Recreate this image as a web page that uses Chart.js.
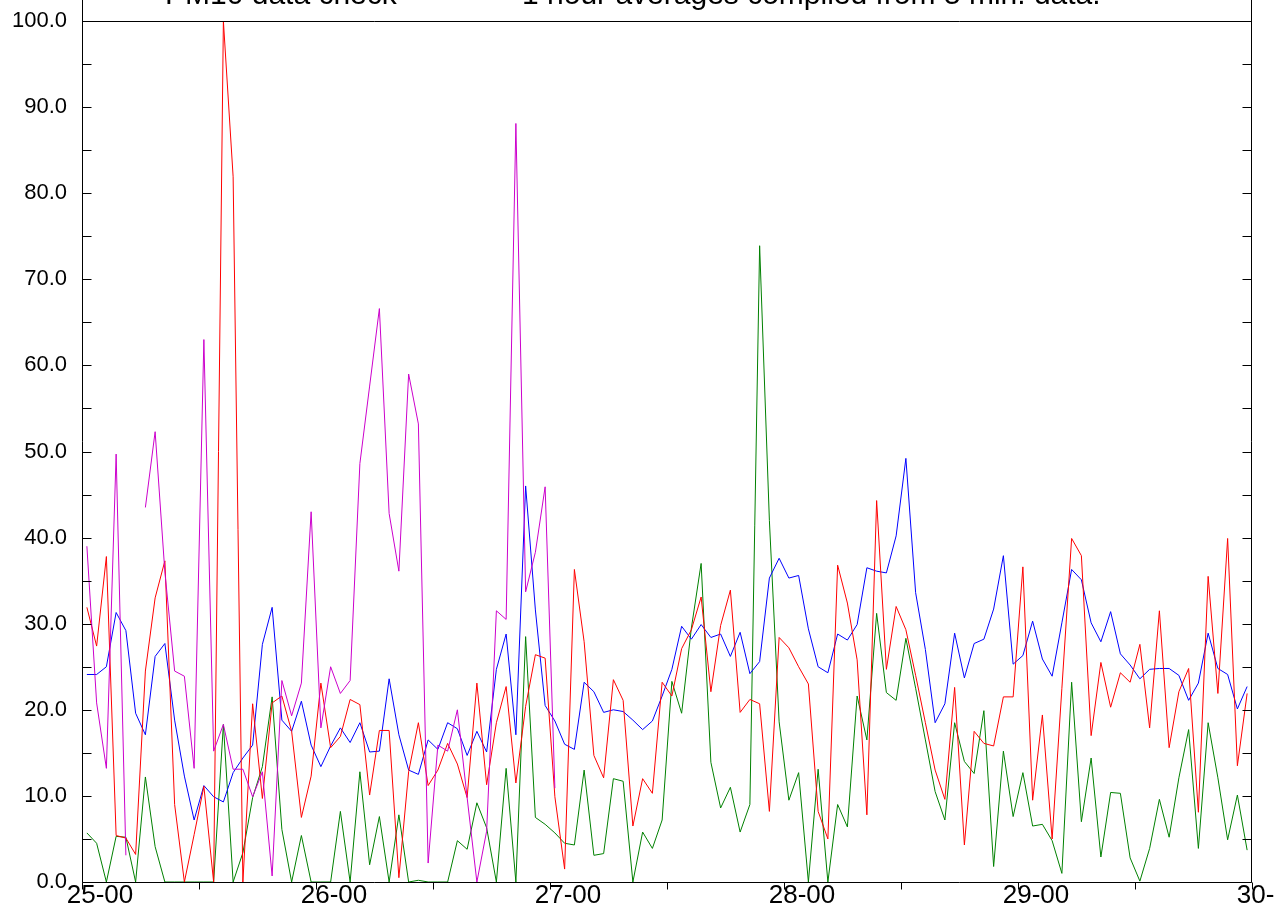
<!DOCTYPE html>
<html>
<head>
<meta charset="utf-8">
<script src="https://cdn.jsdelivr.net/npm/chart.js@4.4.1/dist/chart.umd.min.js"></script>
<style>
  html, body { margin: 0; padding: 0; background: #ffffff; }
  #wrap { position: relative; width: 1274px; height: 909px; }
  canvas { display: block; }
</style>
</head>
<body>
<div id="wrap"><canvas id="c" width="1274" height="909"></canvas></div>
<script>
// ---- chart text ----
const titleLeft = 'PM10 data check';
const titleRight = '1 hour averages compiled from 5 min. data.';
const dayLabels = ['25-00', '26-00', '27-00', '28-00', '29-00', '30-00'];

// ---- hourly averages (120 hours, 25-00 .. 30-00), one value per hour ----
const seriesMagenta = [
  39.0, 20.8, 13.2, 49.7, 3.1, null, 43.5, 52.3, 36.0, 24.5, 23.9, 13.2,
  63.0, 15.2, 18.3, 13.1, 13.1, 9.9, 12.8, 0.7, 23.4, 19.3, 23.1, 43.0,
  17.9, 25.0, 21.9, 23.4, 48.6, 57.6, 66.6, 42.8, 36.1, 59.0, 53.2, 2.2,
  15.9, 15.2, 20.0, 9.8, 0.0, 5.9, 31.5, 30.5, 88.1, 33.7, 38.3, 45.9,
  10.9, null, null, null, null, null, null, null, null, null, null, null,
  null, null, null, null, null, null, null, null, null, null, null, null,
  null, null, null, null, null, null, null, null, null, null, null, null,
  null, null, null, null, null, null, null, null, null, null, null, null,
  null, null, null, null, null, null, null, null, null, null, null, null,
  null, null, null, null, null, null, null, null, null, null, null, null
];
const seriesRed = [
  31.9, 27.4, 37.8, 5.4, 5.1, 3.2, 24.5, 33.0, 37.3, 9.0, 0.0, 5.5,
  11.1, 0.0, 100.0, 81.9, 0.0, 20.7, 9.7, 20.8, 21.6, 17.5, 7.5, 12.3,
  23.1, 15.6, 16.9, 21.2, 20.6, 10.1, 17.6, 17.6, 0.5, 12.8, 18.5, 11.2,
  13.0, 16.1, 13.7, 9.8, 23.1, 11.3, 18.5, 22.7, 11.5, 20.4, 26.4, 26.0,
  9.9, 1.5, 36.3, 27.9, 14.7, 12.1, 23.5, 21.1, 6.5, 12.0, 10.3, 23.2,
  21.6, 27.1, 29.3, 33.1, 22.1, 29.8, 33.9, 19.7, 21.2, 20.7, 8.2, 28.4,
  27.2, 25.0, 23.0, 8.2, 5.0, 36.8, 32.4, 25.8, 7.8, 44.3, 24.7, 32.0,
  29.3, 24.0, 18.5, 13.0, 9.6, 22.6, 4.3, 17.5, 16.1, 15.8, 21.5, 21.5,
  36.6, 9.5, 19.4, 5.0, 22.5, 39.9, 37.9, 17.0, 25.5, 20.3, 24.3, 23.2,
  27.6, 17.9, 31.5, 15.6, 22.1, 24.8, 8.1, 35.5, 21.9, 39.9, 13.5, 21.9
];
const seriesBlue = [
  24.1, 24.1, 25.0, 31.3, 29.2, 19.6, 17.1, 26.2, 27.7, 18.8, 12.3, 7.2,
  11.2, 9.9, 9.3, 12.7, 14.4, 15.9, 27.6, 31.9, 18.8, 17.5, 21.0, 15.9,
  13.4, 15.8, 17.9, 16.2, 18.5, 15.1, 15.2, 23.6, 17.1, 13.0, 12.5, 16.5,
  15.4, 18.5, 17.8, 14.7, 17.5, 15.1, 24.7, 28.8, 17.1, 46.0, 31.6, 20.5,
  18.7, 16.0, 15.4, 23.2, 22.1, 19.7, 20.0, 19.8, 18.8, 17.7, 18.7, 21.6,
  24.7, 29.7, 28.2, 29.9, 28.4, 28.8, 26.2, 29.0, 24.2, 25.6, 35.3, 37.6,
  35.3, 35.6, 29.4, 25.0, 24.3, 28.8, 28.1, 29.9, 36.5, 36.1, 35.9, 40.2,
  49.2, 33.6, 27.0, 18.5, 20.7, 28.9, 23.7, 27.7, 28.2, 31.7, 37.9, 25.3,
  26.3, 30.3, 25.9, 23.9, 30.1, 36.3, 35.1, 30.1, 27.9, 31.4, 26.5, 25.2,
  23.6, 24.7, 24.8, 24.8, 24.0, 21.1, 23.1, 28.9, 24.8, 24.1, 20.1, 22.7
];
const seriesGreen = [
  5.7, 4.5, 0.0, 5.3, 5.2, 0.0, 12.2, 4.1, 0.0, 0.0, 0.0, 0.0,
  0.0, 0.0, 18.3, 0.0, 3.4, 9.8, 13.4, 21.5, 6.1, 0.0, 5.4, 0.0,
  0.0, 0.0, 8.2, 0.0, 12.8, 2.0, 7.6, 0.0, 7.8, 0.0, 0.2, 0.0,
  0.0, 0.0, 4.8, 3.8, 9.2, 6.3, 0.0, 13.2, 0.0, 28.5, 7.5, 6.7,
  5.7, 4.5, 4.3, 13.0, 3.1, 3.3, 12.0, 11.7, 0.0, 5.8, 3.9, 7.2,
  23.3, 19.6, 29.5, 37.0, 13.9, 8.6, 11.0, 5.8, 9.0, 73.9, 42.0, 18.6,
  9.5, 12.7, 0.0, 13.1, 0.0, 9.0, 6.4, 21.6, 16.5, 31.2, 22.0, 21.1,
  28.3, 22.5, 16.5, 10.5, 7.2, 18.5, 14.0, 12.6, 19.9, 1.8, 15.2, 7.6,
  12.7, 6.5, 6.7, 4.8, 1.0, 23.2, 7.0, 14.4, 2.9, 10.4, 10.3, 2.8,
  0.1, 3.9, 9.6, 5.2, 12.1, 17.7, 3.9, 18.5, 12.1, 4.9, 10.1, 3.7
];

// each hourly average sits in the middle of its hour
const toPoints = arr => arr.map((v, i) => ({ x: i + 0.5, y: v }));

const FONT = "'Liberation Sans', Arial, Helvetica, sans-serif";

const framePlugin = {
  id: 'frame',
  afterDraw(chart) {
    const ctx = chart.ctx;
    const a = chart.chartArea;
    const xs = chart.scales.x, ys = chart.scales.y;
    const L = Math.round(a.left) + 0.5, R = Math.round(a.right) - 0.5;
    const T = Math.round(a.top) + 0.5, B = Math.round(a.bottom) + 0.5;
    ctx.save();
    ctx.strokeStyle = '#000';
    ctx.lineWidth = 1;
    ctx.beginPath();
    // frame
    ctx.moveTo(L, 0); ctx.lineTo(L, B);
    ctx.moveTo(R, 0); ctx.lineTo(R, B);
    ctx.moveTo(L, T); ctx.lineTo(R, T);
    ctx.moveTo(L, B); ctx.lineTo(R, B);
    // y ticks, inward on both sides, every 5
    for (let v = 0; v <= 100; v += 5) {
      const y = Math.round(ys.getPixelForValue(v)) + 0.5;
      ctx.moveTo(L, y); ctx.lineTo(L + 9, y);
      ctx.moveTo(R, y); ctx.lineTo(R - 9, y);
    }
    // x ticks, outward, every 12 h
    for (let h = 0; h <= 120; h += 12) {
      const x = Math.round(xs.getPixelForValue(h)) + 0.5;
      ctx.moveTo(x, B); ctx.lineTo(x, B + 7);
    }
    ctx.stroke();
    // title (partly above the canvas)
    ctx.fillStyle = '#000';
    ctx.font = '30px ' + FONT;
    ctx.textBaseline = 'alphabetic';
    ctx.textAlign = 'left';
    ctx.fillText(titleLeft, 165, 4);
    ctx.fillText(titleRight, 522, 4);
    ctx.restore();
  }
};

const ds = (label, data, color) => ({
  label, data: toPoints(data), borderColor: color, backgroundColor: color,
  borderWidth: 1, pointRadius: 0, tension: 0, spanGaps: false, fill: false
});

new Chart(document.getElementById('c'), {
  type: 'line',
  data: {
    datasets: [
      ds('magenta', seriesMagenta, '#cc00cc'),
      ds('red', seriesRed, '#ff0000'),
      ds('blue', seriesBlue, '#0000ff'),
      ds('green', seriesGreen, '#008000')
    ]
  },
  options: {
    responsive: false,
    animation: false,
    events: [],
    layout: { padding: { top: 21, right: 22, left: 0, bottom: 0 } },
    plugins: { legend: { display: false }, tooltip: { enabled: false }, title: { display: false } },
    scales: {
      x: {
        type: 'linear', min: 0, max: 120,
        grid: { display: false, drawTicks: false },
        border: { display: false },
        ticks: {
          stepSize: 12, autoSkip: false, maxRotation: 0, minRotation: 0,
          padding: -2, labelOffset: 18,
          color: '#000', font: { family: FONT, size: 26 },
          callback: v => (v % 24 === 0 ? dayLabels[v / 24] : '')
        },
        afterFit(s) { s.height = 27; s.paddingLeft = 0; s.paddingRight = 0; }
      },
      y: {
        min: 0, max: 100,
        grid: { display: false, drawTicks: false },
        border: { display: false },
        ticks: {
          stepSize: 5, autoSkip: false, padding: 15,
          color: '#000', font: { family: FONT, size: 22 },
          callback: v => (v % 10 === 0 ? v.toFixed(1) : '')
        },
        afterFit(s) { s.width = 82; s.paddingTop = 0; s.paddingBottom = 0; }
      }
    }
  },
  plugins: [framePlugin]
});
</script>
</body>
</html>
